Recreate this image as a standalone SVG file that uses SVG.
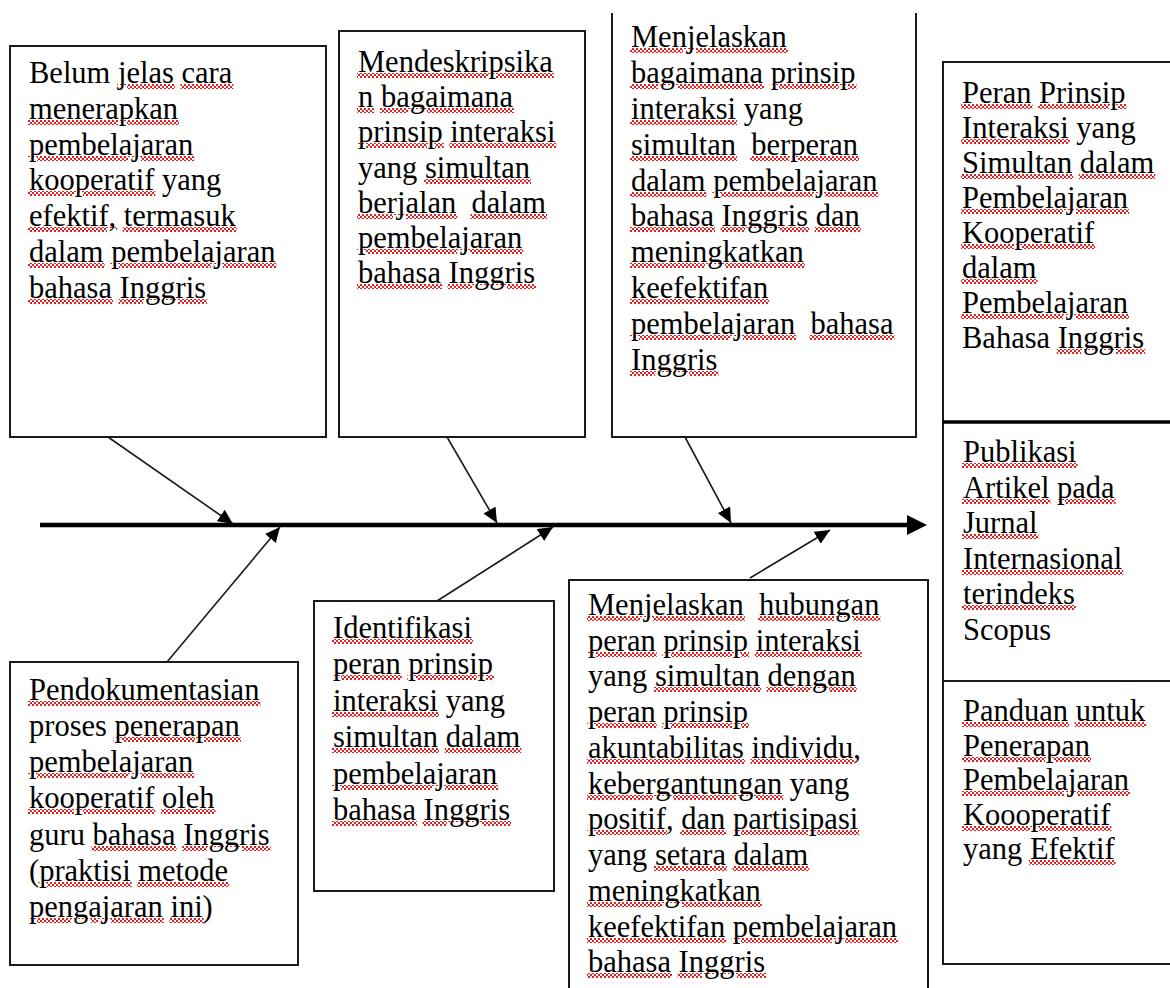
<svg xmlns="http://www.w3.org/2000/svg" width="1170" height="988" viewBox="0 0 1170 988">
<style>
.box{fill:#fff;stroke:#1a1a1a;stroke-width:2}
.t{font-family:"Liberation Serif","Times New Roman",serif;font-size:30.5px;fill:#000}
.u{text-decoration:underline;fill:url(#sq);stroke:url(#sq);stroke-width:2}
.u tspan,.u .k{fill:#000;stroke:none}
.br{stroke:#1a1a1a;stroke-width:1.6;fill:none}
</style>
<defs>
<pattern id="sq" patternUnits="userSpaceOnUse" width="4" height="4">
<rect x="0" y="0" width="2" height="2" fill="#e52020"/>
<rect x="2" y="2" width="2" height="2" fill="#e52020"/>
</pattern>
<marker id="ah" markerUnits="userSpaceOnUse" markerWidth="16" markerHeight="14" refX="15" refY="7" orient="auto">
<path d="M0,0 L15,7 L0,14 Z" fill="#000"/>
</marker>
</defs>
<rect width="1170" height="988" fill="#fff"/>

<g id="connectors">
<line x1="40" y1="525" x2="912" y2="525" stroke="#000" stroke-width="4.5"/>
<polygon points="907,515 927,525 907,535" fill="#000"/>
<line class="br" x1="108" y1="437" x2="233" y2="524" marker-end="url(#ah)"/>
<line class="br" x1="447" y1="437" x2="497" y2="523" marker-end="url(#ah)"/>
<line class="br" x1="685" y1="437" x2="731" y2="523" marker-end="url(#ah)"/>
<line class="br" x1="167" y1="662" x2="280" y2="527" marker-end="url(#ah)"/>
<line class="br" x1="437" y1="601" x2="553" y2="527" marker-end="url(#ah)"/>
<line class="br" x1="750" y1="578" x2="830" y2="530" marker-end="url(#ah)"/>
</g>

<g id="box1">
<rect class="box" x="10" y="46" width="316" height="391"/>
<text class="t"><tspan x="29" y="83">Belum <tspan class="u"><tspan>jelas</tspan></tspan> <tspan class="u"><tspan>cara</tspan></tspan></tspan><tspan x="29" y="119" class="u"><tspan>menerapkan</tspan></tspan><tspan x="29" y="155" class="u"><tspan>pembelajaran</tspan></tspan><tspan x="29" y="190"><tspan class="u"><tspan>kooperatif</tspan></tspan> yang</tspan><tspan x="29" y="226"><tspan class="u"><tspan>efektif,</tspan></tspan> <tspan class="u"><tspan>termasuk</tspan></tspan></tspan><tspan x="29" y="262"><tspan class="u"><tspan>dalam</tspan></tspan> <tspan class="u"><tspan>pembelajaran</tspan></tspan></tspan><tspan x="29" y="298"><tspan class="u"><tspan>bahasa</tspan></tspan> <tspan class="u"><tspan>Inggris</tspan></tspan></tspan></text>
</g>

<g id="box2">
<rect class="box" x="339" y="31" width="246" height="406"/>
<text class="t"><tspan x="358" y="72" class="u"><tspan>Mendeskripsika</tspan></tspan><tspan x="358" y="107"><tspan class="u"><tspan>n</tspan></tspan> <tspan class="u"><tspan>bagaimana</tspan></tspan></tspan><tspan x="358" y="142"><tspan class="u"><tspan>prinsip</tspan></tspan> <tspan class="u"><tspan>interaksi</tspan></tspan></tspan><tspan x="358" y="178">yang <tspan class="u"><tspan>simultan</tspan></tspan></tspan><tspan x="358" y="213"><tspan class="u"><tspan>berjalan</tspan></tspan>&#160; <tspan class="u"><tspan>dalam</tspan></tspan></tspan><tspan x="358" y="248" class="u"><tspan>pembelajaran</tspan></tspan><tspan x="358" y="283"><tspan class="u"><tspan>bahasa</tspan></tspan> <tspan class="u"><tspan>Inggris</tspan></tspan></tspan></text>
</g>

<g id="box3">
<path class="box" d="M612,13 V437 H916 V13"/>
<text class="t"><tspan x="631" y="47" class="u"><tspan>Menjelaskan</tspan></tspan><tspan x="631" y="83"><tspan class="u"><tspan>bagaimana</tspan></tspan> <tspan class="u"><tspan>prinsip</tspan></tspan></tspan><tspan x="631" y="119"><tspan class="u"><tspan>interaksi</tspan></tspan> yang</tspan><tspan x="631" y="155"><tspan class="u"><tspan>simultan</tspan></tspan>&#160; <tspan class="u"><tspan>berperan</tspan></tspan></tspan><tspan x="631" y="191"><tspan class="u"><tspan>dalam</tspan></tspan> <tspan class="u"><tspan>pembelajaran</tspan></tspan></tspan><tspan x="631" y="226"><tspan class="u"><tspan>bahasa</tspan></tspan> <tspan class="u"><tspan>Inggris</tspan></tspan> <tspan class="u"><tspan>dan</tspan></tspan></tspan><tspan x="631" y="262" class="u"><tspan>meningkatkan</tspan></tspan><tspan x="631" y="298" class="u"><tspan>keefektifan</tspan></tspan><tspan x="631" y="334"><tspan class="u"><tspan>pembelajaran</tspan></tspan>&#160; <tspan class="u"><tspan>bahasa</tspan></tspan></tspan><tspan x="631" y="370" class="u"><tspan>Inggris</tspan></tspan></text>
</g>

<g id="box4">
<rect class="box" x="943" y="62" width="240" height="360"/>
<text class="t"><tspan x="962" y="103"><tspan class="u"><tspan>Peran</tspan></tspan> <tspan class="u"><tspan>Prinsip</tspan></tspan></tspan><tspan x="962" y="138"><tspan class="u"><tspan>Interaksi</tspan></tspan> yang</tspan><tspan x="962" y="173"><tspan class="u"><tspan>Simultan</tspan></tspan> <tspan class="u"><tspan>dalam</tspan></tspan></tspan><tspan x="962" y="208" class="u"><tspan>Pembelajaran</tspan></tspan><tspan x="962" y="243" class="u"><tspan>Kooperatif</tspan></tspan><tspan x="962" y="278" class="u"><tspan>dalam</tspan></tspan><tspan x="962" y="313" class="u"><tspan>Pembelajaran</tspan></tspan><tspan x="962" y="348">Bahasa <tspan class="u"><tspan>Inggris</tspan></tspan></tspan></text>
</g>

<g id="box5">
<rect class="box" x="943" y="422" width="240" height="259"/>
<line x1="943" y1="422" x2="1170" y2="422" stroke="#000" stroke-width="3.5"/>
<text class="t"><tspan x="963" y="462" class="u"><tspan>Publikasi</tspan></tspan><tspan x="963" y="498"><tspan class="u"><tspan>Artikel</tspan></tspan> <tspan class="u"><tspan>pada</tspan></tspan></tspan><tspan x="963" y="533" class="u"><tspan>Jurnal</tspan></tspan><tspan x="963" y="569" class="u"><tspan>Internasional</tspan></tspan><tspan x="963" y="604" class="u"><tspan>terindeks</tspan></tspan><tspan x="963" y="640">Scopus</tspan></text>
</g>

<g id="box6">
<rect class="box" x="943" y="681" width="240" height="283"/>
<text class="t"><tspan x="963" y="721"><tspan class="u"><tspan>Panduan</tspan></tspan> <tspan class="u"><tspan>untuk</tspan></tspan></tspan><tspan x="963" y="756" class="u"><tspan>Penerapan</tspan></tspan><tspan x="963" y="790" class="u"><tspan>Pembelajaran</tspan></tspan><tspan x="963" y="825" class="u"><tspan>Koooperatif</tspan></tspan><tspan x="963" y="859">yang <tspan class="u"><tspan>Efektif</tspan></tspan></tspan></text>
</g>

<g id="box7">
<rect class="box" x="10" y="662" width="288" height="303"/>
<text class="t"><tspan x="29" y="700" class="u"><tspan>Pendokumentasian</tspan></tspan><tspan x="29" y="736">proses <tspan class="u"><tspan>penerapan</tspan></tspan></tspan><tspan x="29" y="772" class="u"><tspan>pembelajaran</tspan></tspan><tspan x="29" y="808"><tspan class="u"><tspan>kooperatif</tspan></tspan> <tspan class="u"><tspan>oleh</tspan></tspan></tspan><tspan x="29" y="845">guru <tspan class="u"><tspan>bahasa</tspan></tspan> <tspan class="u"><tspan>Inggris</tspan></tspan></tspan><tspan x="29" y="881">(<tspan class="u"><tspan>praktisi</tspan></tspan> <tspan class="u"><tspan>metode</tspan></tspan></tspan><tspan x="29" y="917"><tspan class="u"><tspan>pengajaran</tspan></tspan> <tspan class="u"><tspan>ini</tspan></tspan>)</tspan></text>
</g>

<g id="box8">
<rect class="box" x="314" y="601" width="240" height="290"/>
<text class="t"><tspan x="333" y="638" class="u"><tspan>Identifikasi</tspan></tspan><tspan x="333" y="674"><tspan class="u"><tspan>peran</tspan></tspan> <tspan class="u"><tspan>prinsip</tspan></tspan></tspan><tspan x="333" y="711"><tspan class="u"><tspan>interaksi</tspan></tspan> yang</tspan><tspan x="333" y="747"><tspan class="u"><tspan>simultan</tspan></tspan> <tspan class="u"><tspan>dalam</tspan></tspan></tspan><tspan x="333" y="784" class="u"><tspan>pembelajaran</tspan></tspan><tspan x="333" y="820"><tspan class="u"><tspan>bahasa</tspan></tspan> <tspan class="u"><tspan>Inggris</tspan></tspan></tspan></text>
</g>

<g id="box9">
<rect class="box" x="569" y="580" width="359" height="420"/>
<text class="t"><tspan x="588" y="615"><tspan class="u"><tspan>Menjelaskan</tspan></tspan>&#160; <tspan class="u"><tspan>hubungan</tspan></tspan></tspan><tspan x="588" y="651"><tspan class="u"><tspan>peran</tspan></tspan> <tspan class="u"><tspan>prinsip</tspan></tspan> <tspan class="u"><tspan>interaksi</tspan></tspan></tspan><tspan x="588" y="686">yang <tspan class="u"><tspan>simultan</tspan></tspan> <tspan class="u"><tspan>dengan</tspan></tspan></tspan><tspan x="588" y="722"><tspan class="u"><tspan>peran</tspan></tspan> <tspan class="u"><tspan>prinsip</tspan></tspan></tspan><tspan x="588" y="758"><tspan class="u"><tspan>akuntabilitas</tspan></tspan> <tspan class="u"><tspan>individu</tspan></tspan>,</tspan><tspan x="588" y="794"><tspan class="u"><tspan>kebergantungan</tspan></tspan> yang</tspan><tspan x="588" y="829"><tspan class="u"><tspan>positif</tspan></tspan>, <tspan class="u"><tspan>dan</tspan></tspan> <tspan class="u"><tspan>partisipasi</tspan></tspan></tspan><tspan x="588" y="865">yang <tspan class="u"><tspan>setara</tspan></tspan> <tspan class="u"><tspan>dalam</tspan></tspan></tspan><tspan x="588" y="901" class="u"><tspan>meningkatkan</tspan></tspan><tspan x="588" y="937"><tspan class="u"><tspan>keefektifan</tspan></tspan> <tspan class="u"><tspan>pembelajaran</tspan></tspan></tspan><tspan x="588" y="972"><tspan class="u"><tspan>bahasa</tspan></tspan> <tspan class="u"><tspan>Inggris</tspan></tspan></tspan></text>
</g>
</svg>
